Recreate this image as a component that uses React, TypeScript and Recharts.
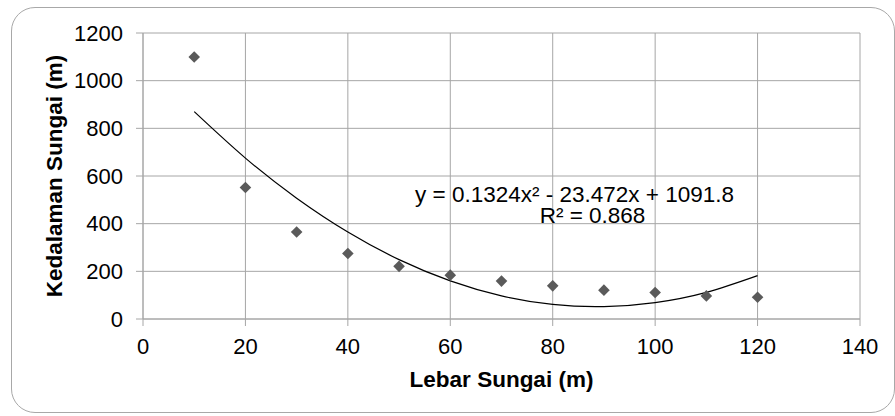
import { ComposedChart, Scatter, Line, XAxis, YAxis, CartesianGrid } from "recharts";

// Lebar sungai (m) vs kedalaman sungai (m)
const widthM = [10, 20, 30, 40, 50, 60, 70, 80, 90, 100, 110, 120];
const depthM = [1099, 552, 365, 275, 221, 184, 159, 139, 121, 111, 97, 91];
// polynomial trendline at each width
const trendM = [870, 675, 507, 365, 249, 160, 97, 61, 52, 69, 112, 182];

const xTicks = [0, 20, 40, 60, 80, 100, 120, 140];
const yTicks = [0, 200, 400, 600, 800, 1000, 1200];

const equation = "y = 0.1324x² - 23.472x + 1091.8";
const rSquared = "R² = 0.868";

const FONT = "'Liberation Sans', Arial, sans-serif";
const GRID = "#a6a6a6";

const rows = widthM.map((x, i) => ({ x, depth: depthM[i], trend: trendM[i] }));

function Diamond(props: any) {
  const { cx, cy } = props;
  if (cx == null || cy == null) return null;
  const r = 5.8;
  return (
    <path
      d={`M${cx},${cy - r}L${cx + r},${cy}L${cx},${cy + r}L${cx - r},${cy}Z`}
      fill="#5a5a5a"
    />
  );
}

function XTitle(props: any) {
  const vb = props.viewBox;
  return (
    <text
      x={vb.x + vb.width / 2}
      y={387}
      textAnchor="middle"
      fontFamily={FONT}
      fontSize={22.5}
      fontWeight="bold"
      fill="#000"
    >
      Lebar Sungai (m)
    </text>
  );
}

function YTitle(props: any) {
  const vb = props.viewBox;
  const cy = vb.y + vb.height / 2;
  return (
    <text
      x={61.5}
      y={cy}
      transform={`rotate(-90, 61.5, ${cy})`}
      textAnchor="middle"
      fontFamily={FONT}
      fontSize={22.5}
      fontWeight="bold"
      fill="#000"
    >
      Kedalaman Sungai (m)
    </text>
  );
}

export default function App() {
  return (
    <div
      style={{
        position: "absolute",
        left: 0,
        top: 0,
        width: 895,
        height: 416,
        background: "#fff",
        overflow: "hidden",
      }}
    >
      <div
        style={{
          position: "absolute",
          left: 11,
          top: 7,
          width: 884,
          height: 406,
          boxSizing: "border-box",
          border: "1px solid #a8a8a8",
          borderRadius: 24,
        }}
      />
      <ComposedChart
        width={895}
        height={416}
        data={rows}
        margin={{ top: 33, right: 35, left: 0, bottom: 0 }}
        style={{ position: "absolute", left: 0, top: 0 }}
      >
        <CartesianGrid stroke={GRID} strokeWidth={1} />
        <XAxis
          type="number"
          dataKey="x"
          domain={[0, 140]}
          ticks={xTicks}
          interval={0}
          height={97}
          tickSize={7}
          tickMargin={12}
          axisLine={{ stroke: GRID }}
          tickLine={{ stroke: GRID }}
          tick={{ fill: "#000", fontSize: 22, fontFamily: FONT }}
          label={<XTitle />}
        />
        <YAxis
          type="number"
          domain={[0, 1200]}
          ticks={yTicks}
          interval={0}
          width={143}
          tickSize={7}
          tickMargin={13}
          axisLine={{ stroke: GRID }}
          tickLine={{ stroke: GRID }}
          tick={{ fill: "#000", fontSize: 22, fontFamily: FONT }}
          label={<YTitle />}
        />
        <Scatter dataKey="depth" shape={<Diamond />} isAnimationActive={false} />
        <Line
          dataKey="trend"
          type="natural"
          stroke="#000"
          strokeWidth={1.2}
          dot={false}
          activeDot={false}
          isAnimationActive={false}
        />
      </ComposedChart>
      <svg
        width={895}
        height={416}
        style={{ position: "absolute", left: 0, top: 0, pointerEvents: "none" }}
      >
        <text x={574.5} y={202} textAnchor="middle" fontFamily={FONT} fontSize={22.5} fill="#000">
          {equation}
        </text>
        <text x={592.5} y={223} textAnchor="middle" fontFamily={FONT} fontSize={22.5} fill="#000">
          {rSquared}
        </text>
      </svg>
    </div>
  );
}
